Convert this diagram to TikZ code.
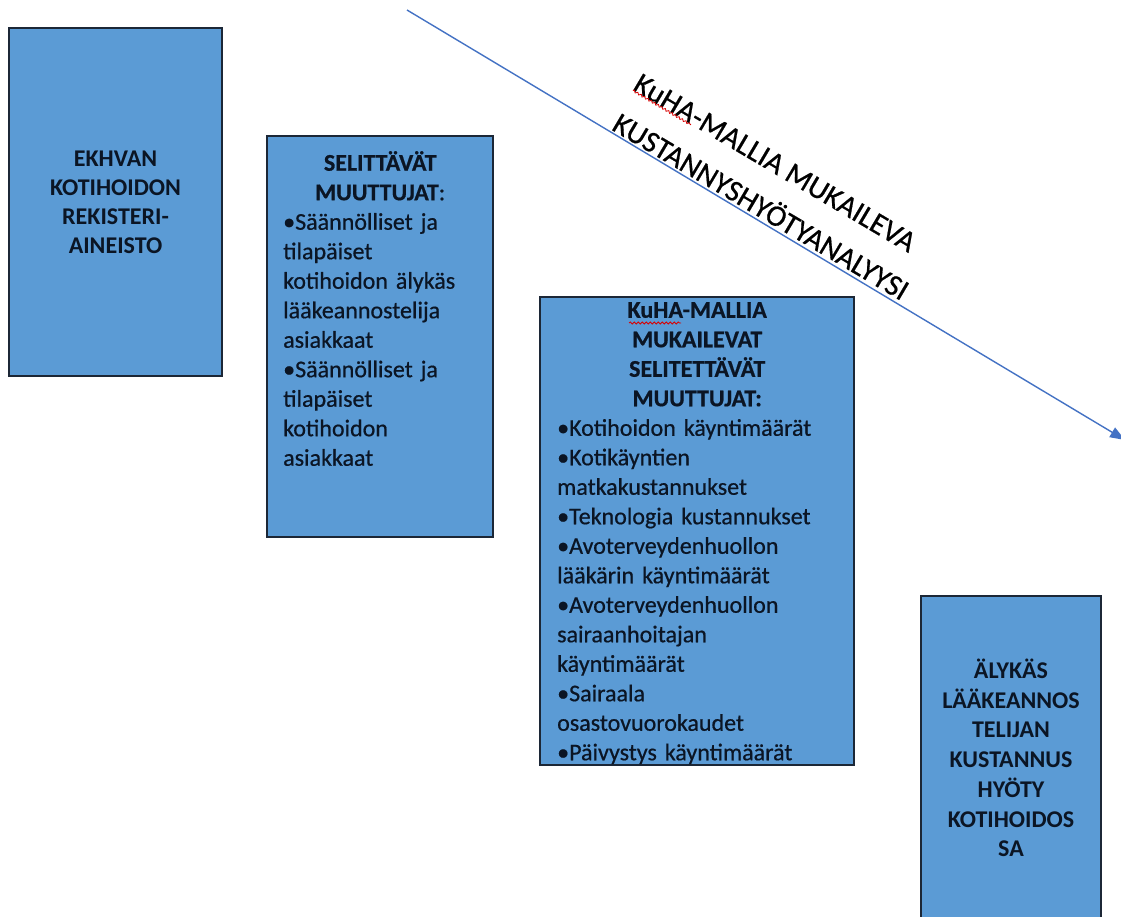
\documentclass[tikz,border=0pt]{standalone}
\usepackage{fontspec}
\setmainfont{Carlito}
\newfontfamily\heavyfont[FakeBold=0.6]{Carlito}
\usetikzlibrary{arrows.meta,calc,decorations.pathmorphing}
\definecolor{boxblue}{HTML}{5B9BD5}
\definecolor{boxedge}{HTML}{1C2736}
\definecolor{arrowblue}{HTML}{4472C4}
\definecolor{txt}{HTML}{0B1524}
\begin{document}
\begin{tikzpicture}[x=1pt,y=-1pt,
  box/.style={draw=boxedge, line width=1.3pt, fill=boxblue, inner sep=0pt},
  boxtext/.style={text=txt, font=\heavyfont\fontsize{24}{29.5}\selectfont, inner sep=0pt},
  diagtext/.style={text=black, font=\heavyfont\fontsize{30}{36}\selectfont, inner sep=0pt, rotate=-30.6},
  spell/.style={draw=red!85!black, line width=0.8pt, decorate, decoration={snake, segment length=4pt, amplitude=1pt}},
  flow/.style={draw=arrowblue, line width=1.4pt, -{Triangle[length=15pt,width=11pt]}}]
\useasboundingbox (0,0) rectangle (1121,917);
\clip (0,0) rectangle (1121,917);
\fill[white] (0,0) rectangle (1121,917);

% arrow
\coordinate (as) at (407,10);
\coordinate (ae) at (1125,440);
\draw[flow] (as) -- (ae);

% diagonal label
\node[diagtext] (l1) at (775,163) {KuHA-MALLIA MUKAILEVA};
\node[diagtext] (l2) at (762,205) {KUSTANNYSHYÖTYANALYYSI};
\draw[spell] ($(l1.south west)!0.005!(l1.south east)$) -- ($(l1.south west)!0.215!(l1.south east)$);

% box 1
\node[box, minimum width=213pt, minimum height=348pt] (b1) at (115.5,202) {};
\node[boxtext, align=center, font=\fontsize{24}{29}\selectfont\bfseries] (t1) at (b1.center)
  {EKHVAN\\KOTIHOIDON\\REKISTERI-\\AINEISTO};

% box 2
\node[box, minimum width=226pt, minimum height=401pt] (b2) at (380,336.5) {};
\node[boxtext, anchor=north west, text width=194pt, align=left] (t2) at (283,151)
  {{\centering\textbf{SELITTÄVÄT}\\\textbf{MUUTTUJAT}:\par}
   •Säännölliset ja\\tilapäiset\\kotihoidon älykäs\\lääkeannostelija\\asiakkaat\\
   •Säännölliset ja\\tilapäiset\\kotihoidon\\asiakkaat};

% box 3
\node[box, minimum width=314pt, minimum height=468pt] (b3) at (697,531) {};
\node[boxtext, anchor=north west, text width=280pt, align=left] (t3) at (557,302)
  {{\centering\bfseries KuHA-MALLIA\\MUKAILEVAT\\SELITETTÄVÄT\\MUUTTUJAT:\par}
   •Kotihoidon käyntimäärät\\
   •Kotikäyntien\\matkakustannukset\\
   •Teknologia kustannukset\\
   •Avoterveydenhuollon\\lääkärin käyntimäärät\\
   •Avoterveydenhuollon\\sairaanhoitajan\\käyntimäärät\\
   •Sairaala\\osastovuorokaudet\\
   •Päivystys käyntimäärät};
\coordinate (sq1) at (629,323);
\coordinate (sq2) at (681,323);
\draw[spell] (sq1) -- (sq2);

% box 4
\node[box, minimum width=180pt, minimum height=324pt] (b4) at (1011,758) {};
\node[boxtext, align=center, font=\fontsize{24}{29.7}\selectfont\bfseries] (t4) at (b4.center)
  {ÄLYKÄS\\LÄÄKEANNOS\\TELIJAN\\KUSTANNUS\\HYÖTY\\KOTIHOIDOS\\SA};
\end{tikzpicture}
\end{document}
